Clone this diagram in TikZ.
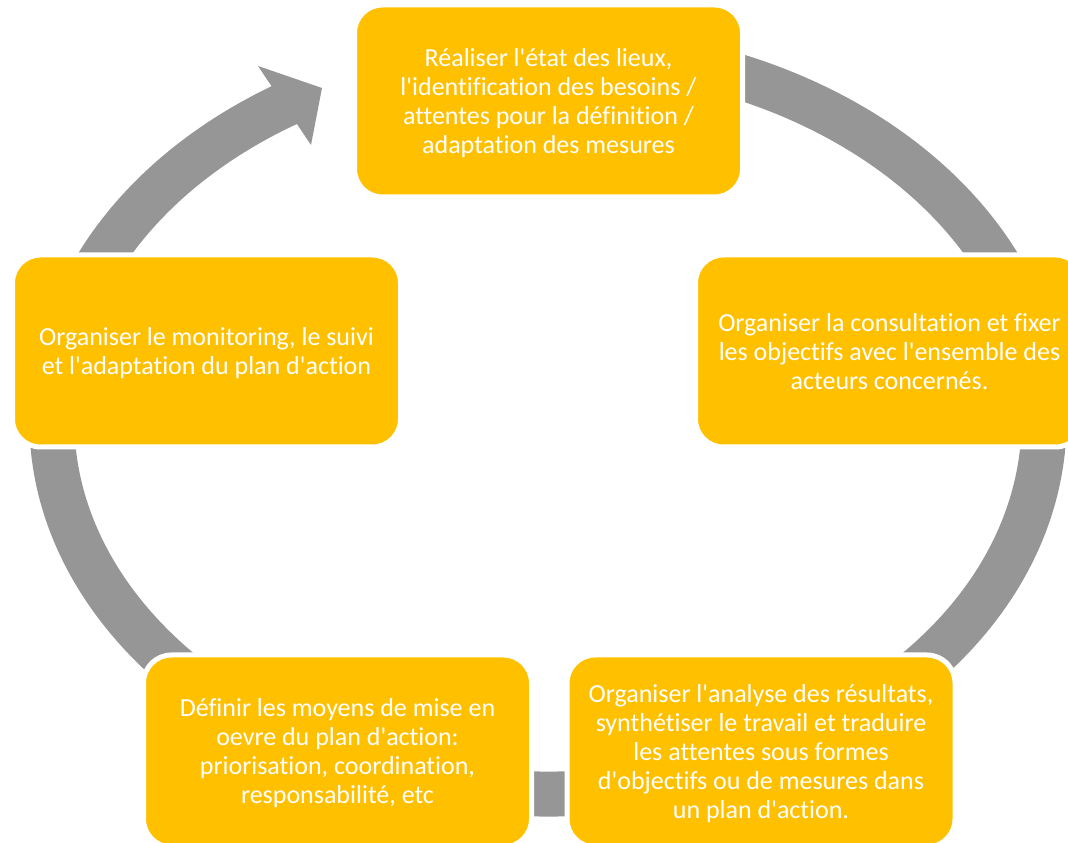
\documentclass[tikz,border=0pt]{standalone}
\usepackage{fontspec}
\setmainfont{Carlito}[Ligatures={TeXOff,NoCommon}]
\usepackage{tikz}
\usetikzlibrary{positioning,calc}
\definecolor{boxyellow}{RGB}{255,192,0}
\definecolor{ringgray}{RGB}{150,150,150}

\begin{document}
\begin{tikzpicture}[x=1pt, y=1pt,
  stage/.style={draw=white, line width=5pt, fill=boxyellow, rounded corners=28pt,
    minimum width=388pt, minimum height=192pt, align=center, text=white,
    font=\fontsize{26}{29}\selectfont, text depth=-5.5pt},
  ring/.style={draw=ringgray, line width=45pt}
]
  \useasboundingbox (0,0) rectangle (1068,843);

  % Cycle ring (clockwise, ending in the arrow head)
  \coordinate (ringc) at (548,422);
  \draw[ring] ($(ringc)+(80:496 and 373)$)
    arc[start angle=80, end angle=-239, x radius=496, y radius=373];
  \coordinate (barbout) at (258,777);
  \coordinate (tip)     at (322,755);
  \coordinate (barbin)  at (311,698);
  \fill[ringgray] (barbout) -- (tip) -- (barbin) -- cycle;

  % Stages (clockwise from the top)
  \node[stage] (survey) at (548.5,742)
    {R\'ealiser l'\'etat des lieux,\\ l'identification des besoins /\\ attentes pour la d\'efinition /\\ adaptation des mesures};
  \node[stage] (consult) at (889.5,492)
    {Organiser la consultation et fixer\\ les objectifs avec l'ensemble des\\ acteurs concern\'es.};
  \node[stage] (analyse) at (761,92)
    {Organiser l'analyse des r\'esultats,\\ synth\'etiser le travail et traduire\\ les attentes sous formes\\ d'objectifs ou de mesures dans\\ un plan d'action.};
  \node[stage] (means) at (337.5,92)
    {D\'efinir les moyens de mise en\\ oevre du plan d'action:\\ priorisation, coordination,\\ responsabilit\'e, etc};
  \node[stage] (monitor) at (206.5,492)
    {Organiser le monitoring, le suivi\\ et l'adaptation du plan d'action};
\end{tikzpicture}
\end{document}
